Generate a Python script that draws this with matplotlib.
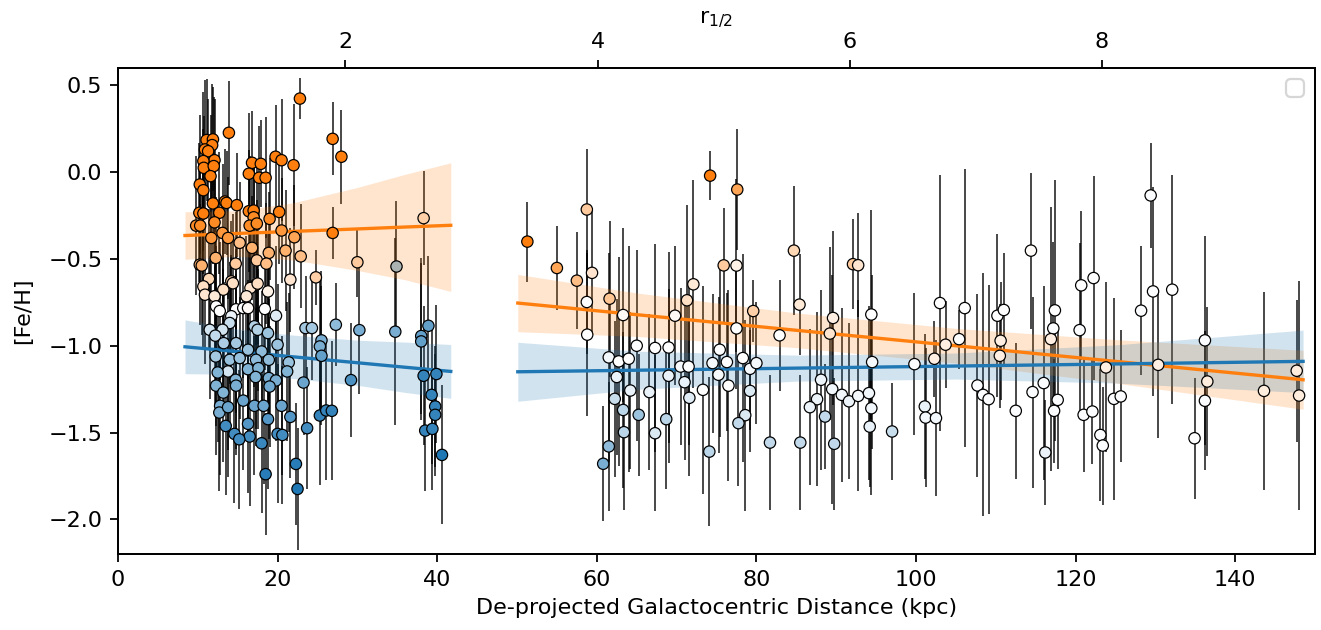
import matplotlib
matplotlib.use("Agg")
import matplotlib.pyplot as plt
from matplotlib.colors import LinearSegmentedColormap

plt.rcParams['font.family'] = ['DejaVu Sans']

# --- inner stars (x in kpc, [Fe/H], error, orange-membership p) ---
inner_x = [22.8, 13.9, 11.1, 11.9, 11.8, 10.9, 11.3, 12.1, 10.7, 10.75, 12.0, 11.6, 10.25, 10.7,
           16.8, 17.9, 16.4, 17.7, 18.5, 19.75, 20.5, 22.0, 26.9, 28.0, 11.9, 13.4, 13.6, 14.9,
           10.2, 10.7, 12.7, 16.4, 17.0, 17.0, 20.2, 19.0, 9.8, 10.3, 12.1, 16.5, 17.4, 13.1,
           11.7, 13.8, 20.5, 22.1, 26.9,
           22.9, 21.0, 18.9, 16.8, 15.25, 12.25, 10.25, 10.5, 17.4, 18.6, 14.75, 21.6, 24.8, 11.4,
           14.2, 17.3, 10.7, 13.2, 16.6, 18.8, 10.9, 16.1, 12.1, 14.4, 17.5, 30.0, 38.3,
           12.3, 12.75, 14.8, 15.7, 16.3, 14.2, 18.4, 19.8,
           14.0, 11.5, 13.1, 17.1, 17.5, 18.8, 12.2, 13.25, 14.8, 20.0, 16.3, 18.0, 12.25, 14.0,
           15.25, 17.3, 18.9, 21.4, 13.8, 12.5, 16.3, 17.6, 21.2, 17.25, 18.9, 19.8, 14.75, 12.3,
           14.8, 19.0, 13.2, 23.25, 15.7, 17.1, 18.25, 20.5, 12.8, 12.7, 13.8, 21.6, 18.8, 16.3,
           13.5, 23.7, 14.6, 20.0, 20.6, 16.5, 15.2, 18.0, 22.3, 18.5, 22.5,
           23.5, 24.3, 27.3, 30.25, 34.75, 25.5, 25.3, 25.5, 29.2, 25.3, 26.1, 26.8, 38.0, 38.0,
           38.9, 38.3, 39.9, 39.3, 39.75, 39.75, 38.5, 39.4, 40.6]
inner_y = [0.424, 0.227, 0.185, 0.189, 0.156, 0.131, 0.121, 0.069, 0.064, 0.025, 0.035, -0.023, -0.071, -0.104,
           0.054, 0.048, -0.009, -0.032, -0.032, 0.089, 0.069, 0.04, 0.192, 0.089, -0.18, -0.169, -0.177, -0.19,
           -0.234, -0.238, -0.234, -0.225, -0.221, -0.26, -0.229, -0.269, -0.308, -0.308, -0.289, -0.308, -0.296, -0.35,
           -0.379, -0.379, -0.336, -0.375, -0.35,
           -0.485, -0.452, -0.465, -0.436, -0.407, -0.494, -0.533, -0.538, -0.508, -0.527, -0.527, -0.619, -0.606, -0.615,
           -0.629, -0.648, -0.658, -0.677, -0.667, -0.687, -0.706, -0.715, -0.715, -0.64, -0.642, -0.519, -0.265,
           -0.773, -0.80, -0.79, -0.783, -0.783, -0.83, -0.788, -0.827,
           -0.869, -0.908, -0.908, -0.888, -0.908, -0.927, -0.942, -0.985, -0.985, -0.994, -1.023, -1.033, -1.062, -1.081,
           -1.071, -1.081, -1.081, -1.096, -1.148, -1.154, -1.135, -1.129, -1.148, -1.18, -1.186, -1.2, -1.196, -1.23,
           -1.23, -1.235, -1.27, -1.212, -1.316, -1.346, -1.346, -1.346, -1.346, -1.385, -1.354, -1.41, -1.423, -1.45,
           -1.462, -1.475, -1.508, -1.508, -1.514, -1.523, -1.539, -1.562, -1.681, -1.74, -1.825,
           -0.898, -0.898, -0.879, -0.91, -0.919, -0.969, -1.004, -1.058, -1.198, -1.402, -1.373, -1.375, -0.944, -0.975,
           -0.885, -1.173, -1.163, -1.283, -1.35, -1.398, -1.489, -1.479, -1.629]
inner_err = [0.12, 0.30, 0.35, 0.30, 0.35, 0.40, 0.30, 0.35, 0.40, 0.30, 0.40, 0.35, 0.40, 0.35,
             0.30, 0.25, 0.35, 0.30, 0.35, 0.30, 0.35, 0.35, 0.21, 0.27, 0.35, 0.30, 0.30, 0.30,
             0.40, 0.35, 0.35, 0.35, 0.30, 0.35, 0.30, 0.35, 0.40, 0.35, 0.30, 0.40, 0.35, 0.40,
             0.35, 0.35, 0.30, 0.30, 0.15,
             0.30, 0.35, 0.35, 0.30, 0.35, 0.35, 0.35, 0.40, 0.35, 0.35, 0.30, 0.30, 0.16, 0.40,
             0.35, 0.35, 0.35, 0.35, 0.40, 0.35, 0.40, 0.35, 0.35, 0.40, 0.35, 0.20, 0.27,
             0.35, 0.40, 0.35, 0.40, 0.35, 0.35, 0.35, 0.40,
             0.35, 0.40, 0.35, 0.35, 0.35, 0.40, 0.40, 0.35, 0.40, 0.35, 0.40, 0.35, 0.40, 0.40,
             0.35, 0.40, 0.35, 0.40, 0.45, 0.40, 0.40, 0.35, 0.40, 0.40, 0.35, 0.35, 0.40, 0.40,
             0.40, 0.35, 0.40, 0.30, 0.40, 0.40, 0.45, 0.40, 0.40, 0.45, 0.40, 0.35, 0.40, 0.40,
             0.40, 0.35, 0.40, 0.40, 0.40, 0.40, 0.40, 0.40, 0.35, 0.35, 0.35,
             0.30, 0.30, 0.24, 0.37, 0.54, 0.40, 0.40, 0.40, 0.33, 0.40, 0.40, 0.40, 0.45, 0.45,
             0.40, 0.40, 0.40, 0.40, 0.35, 0.35, 0.35, 0.35, 0.40]
inner_p = [1.0, 1.0, 1.0, 1.0, 1.0, 1.0, 1.0, 1.0, 1.0, 1.0, 1.0, 1.0, 1.0, 1.0,
           1.0, 1.0, 1.0, 1.0, 1.0, 1.0, 1.0, 1.0, 1.0, 1.0, 1.0, 1.0, 1.0, 1.0,
           1.0, 1.0, 1.0, 1.0, 1.0, 0.95, 1.0, 0.95, 0.95, 0.95, 0.95, 0.95, 0.95, 0.9,
           0.9, 0.9, 0.9, 0.85, 1.0,
           0.75, 0.8, 0.8, 0.8, 0.75, 0.8, 0.8, 0.8, 0.7, 0.75, 0.7, 0.6, 0.68, 0.65,
           0.65, 0.65, 0.62, 0.62, 0.6, 0.55, 0.6, 0.58, 0.58, 0.62, 0.62, 0.7, 0.68,
           0.5, 0.5, 0.5, 0.5, 0.52, 0.46, 0.5, 0.43,
           0.38, 0.4, 0.4, 0.33, 0.33, 0.28, 0.36, 0.32, 0.3, 0.28, 0.27, 0.25, 0.3, 0.27,
           0.27, 0.25, 0.25, 0.27, 0.4, 0.22, 0.22, 0.22, 0.22, 0.22, 0.2, 0.2, 0.22, 0.22,
           0.2, 0.18, 0.22, 0.17, 0.17, 0.17, 0.17, 0.17, 0.2, 0.2, 0.17, 0.12, 0.12, 0.12,
           0.08, 0.08, 0.08, 0.08, 0.08, 0.08, 0.08, 0.06, 0.02, 0.02, 0.0,
           0.3, 0.3, 0.25, 0.2, 0.2, 0.2, 0.2, 0.15, 0.1, 0.05, 0.05, 0.05, 0.15, 0.15,
           0.15, 0.05, 0.05, 0.05, 0.05, 0.05, 0.05, 0.05, 0.0]

# star with undefined membership (drawn grey)
grey_x = [34.8]
grey_y = [-0.538]
grey_err = [0.37]

# --- outer stars ---
outer_x = [51.3, 55.0, 58.75, 57.5, 59.4, 58.75, 58.8, 61.6, 63.3, 61.5, 62.75, 64.0, 65.0, 62.5,
           62.25, 64.2, 63.3, 63.4, 65.25, 61.5, 60.8, 67.3, 69.0, 66.6, 67.3, 68.7, 69.0, 69.8,
           71.3, 72.1, 70.5, 71.5, 71.0, 71.6, 74.2, 77.6, 75.9, 77.5, 79.6, 77.5, 82.9, 84.7,
           85.4, 89.6, 89.2, 92.1, 92.75, 94.4, 94.5, 75.4, 74.5, 76.3, 75.25, 73.3, 76.5, 78.3,
           79.2, 80.0, 79.2, 78.6, 77.75, 74.1, 81.7, 85.5, 89.75, 88.1, 87.6, 86.7, 88.6, 89.5,
           90.7, 91.6, 92.75, 94.1, 94.4, 94.2, 97.0, 99.8, 102.3, 103.7, 103.0, 106.1, 105.4, 101.1,
           101.2, 102.5, 107.7, 108.4, 109.1, 110.2, 111.0, 110.6, 110.5, 112.5, 114.4, 114.6, 116.0, 116.2,
           117.4, 117.2, 116.9, 117.3, 117.75, 120.7, 120.5, 121.0, 122.25, 122.1, 123.8, 123.1, 123.4, 124.8,
           125.65, 128.2, 129.4, 129.7, 130.35, 132.1, 134.9, 136.2, 136.5, 136.2, 143.6, 147.7, 148.0]
outer_y = [-0.40, -0.552, -0.215, -0.625, -0.58, -0.748, -0.936, -0.729, -0.823, -1.067, -1.09, -1.075, -1.0, -1.18,
           -1.306, -1.258, -1.37, -1.498, -1.398, -1.58, -1.68, -1.013, -1.01, -1.267, -1.504, -1.423, -1.173, -0.827,
           -0.738, -0.646, -1.12, -1.12, -1.21, -1.30, -0.02, -0.10, -0.537, -0.538, -0.80, -0.90, -0.94, -0.452,
           -0.763, -0.84, -0.93, -0.53, -0.536, -0.82, -1.094, -1.023, -1.10, -1.094, -1.167, -1.254, -1.23, -1.071,
           -1.133, -1.10, -1.26, -1.40, -1.446, -1.61, -1.558, -1.558, -1.565, -1.196, -1.308, -1.354, -1.408, -1.25,
           -1.283, -1.32, -1.289, -1.273, -1.36, -1.466, -1.494, -1.106, -1.075, -0.994, -0.754, -0.783, -0.962, -1.35,
           -1.414, -1.417, -1.229, -1.283, -1.308, -0.827, -0.794, -0.971, -1.058, -1.375, -0.452, -1.267, -1.215, -1.615,
           -0.796, -0.90, -0.962, -1.375, -1.312, -0.652, -0.91, -1.398, -0.61, -1.379, -1.125, -1.514, -1.575, -1.306,
           -1.292, -0.798, -0.134, -0.687, -1.11, -0.677, -1.533, -0.969, -1.206, -1.317, -1.26, -1.144, -1.287]
outer_err = [0.23, 0.24, 0.35, 0.28, 0.36, 0.30, 0.47, 0.45, 0.50, 0.60, 0.60, 0.65, 0.55, 0.45,
             0.45, 0.45, 0.45, 0.45, 0.35, 0.37, 0.33, 0.60, 0.55, 0.45, 0.45, 0.40, 0.50, 0.40,
             0.55, 0.60, 0.45, 0.45, 0.45, 0.45, 0.14, 0.35, 0.33, 0.50, 0.18, 0.35, 0.32, 0.37,
             0.29, 0.50, 0.50, 0.26, 0.30, 0.60, 0.50, 0.50, 0.40, 0.40, 0.45, 0.60, 0.55, 0.60,
             0.35, 0.35, 0.35, 0.55, 0.36, 0.43, 0.39, 0.39, 0.38, 0.52, 0.50, 0.45, 0.30, 0.66,
             0.50, 0.45, 0.55, 0.50, 0.50, 0.35, 0.28, 0.41, 0.22, 0.25, 0.74, 0.80, 0.17, 0.42,
             0.40, 0.45, 0.53, 0.70, 0.66, 0.47, 0.33, 0.34, 0.30, 0.39, 0.45, 0.55, 0.56, 0.30,
             0.75, 0.50, 0.76, 0.30, 0.40, 0.43, 0.50, 0.33, 0.59, 0.30, 0.49, 0.38, 0.34, 0.58,
             0.38, 0.37, 0.30, 0.60, 0.42, 0.66, 0.35, 0.60, 0.43, 0.40, 0.57, 0.41, 0.66]
outer_p = [1.0, 0.85, 0.7, 0.75, 0.6, 0.5, 0.5, 0.72, 0.52, 0.47, 0.5, 0.5, 0.5, 0.45,
           0.38, 0.45, 0.35, 0.35, 0.28, 0.25, 0.2, 0.5, 0.5, 0.45, 0.42, 0.35, 0.45, 0.52,
           0.62, 0.58, 0.48, 0.5, 0.45, 0.43, 1.0, 0.85, 0.7, 0.55, 0.68, 0.5, 0.5, 0.65,
           0.58, 0.56, 0.6, 0.7, 0.6, 0.5, 0.48, 0.5, 0.48, 0.5, 0.48, 0.5, 0.5, 0.5,
           0.48, 0.48, 0.42, 0.42, 0.36, 0.35, 0.36, 0.36, 0.36, 0.46, 0.46, 0.46, 0.36, 0.47,
           0.47, 0.46, 0.48, 0.47, 0.47, 0.45, 0.38, 0.49, 0.56, 0.56, 0.5, 0.5, 0.5, 0.45,
           0.47, 0.47, 0.49, 0.49, 0.49, 0.5, 0.5, 0.56, 0.56, 0.49, 0.51, 0.49, 0.49, 0.46,
           0.5, 0.49, 0.56, 0.49, 0.49, 0.5, 0.49, 0.49, 0.5, 0.49, 0.56, 0.49, 0.49, 0.49,
           0.49, 0.49, 0.49, 0.49, 0.56, 0.5, 0.5, 0.49, 0.57, 0.49, 0.57, 0.57, 0.57]

# --- fitted trends with confidence bands ---
fit_in_x = [8.4, 15.0, 22.0, 30.0, 36.0, 41.7]
orange_in = [-0.365, -0.353, -0.341, -0.327, -0.316, -0.306]
orange_in_lo = [-0.502, -0.484, -0.506, -0.566, -0.620, -0.687]
orange_in_hi = [-0.228, -0.222, -0.176, -0.088, -0.012, 0.054]
blue_in = [-1.006, -1.034, -1.064, -1.098, -1.124, -1.148]
blue_in_lo = [-1.161, -1.164, -1.189, -1.228, -1.269, -1.303]
blue_in_hi = [-0.851, -0.904, -0.939, -0.968, -0.979, -0.993]

fit_out_x = [50.1, 65.0, 85.0, 105.0, 125.0, 148.5]
orange_out = [-0.754, -0.821, -0.911, -1.000, -1.090, -1.196]
orange_out_lo = [-0.919, -0.946, -1.011, -1.100, -1.215, -1.366]
orange_out_hi = [-0.589, -0.696, -0.811, -0.900, -0.965, -1.026]
blue_out = [-1.150, -1.141, -1.129, -1.117, -1.105, -1.090]
blue_out_lo = [-1.320, -1.251, -1.204, -1.192, -1.215, -1.270]
blue_out_hi = [-0.980, -1.031, -1.054, -1.042, -0.995, -0.910]

# top axis: r_1/2 units
R_HALF_KPC = 15.8
R_ZERO_KPC = -3.1

ORANGE = '#ff7f0e'
BLUE = '#1f77b4'
cmap = LinearSegmentedColormap.from_list('memb', [BLUE, 'white', ORANGE])

DPI = 160
fig = plt.figure(figsize=(1321 / DPI, 630 / DPI), dpi=DPI)
ax = fig.add_axes([0.0893, 0.1206, 0.9062, 0.7714])

all_x = inner_x + grey_x + outer_x
all_y = inner_y + grey_y + outer_y
all_err = inner_err + grey_err + outer_err
ax.errorbar(all_x, all_y, yerr=all_err, fmt='none', ecolor='k', elinewidth=0.7,
            alpha=0.9, zorder=1)

for fx, lo, hi, c in [(fit_in_x, orange_in_lo, orange_in_hi, ORANGE),
                      (fit_in_x, blue_in_lo, blue_in_hi, BLUE),
                      (fit_out_x, orange_out_lo, orange_out_hi, ORANGE),
                      (fit_out_x, blue_out_lo, blue_out_hi, BLUE)]:
    ax.fill_between(fx, lo, hi, color=c, alpha=0.2, linewidth=0, zorder=2)

ax.plot(fit_in_x, orange_in, color=ORANGE, lw=1.5, zorder=3)
ax.plot(fit_in_x, blue_in, color=BLUE, lw=1.5, zorder=3)
ax.plot(fit_out_x, orange_out, color=ORANGE, lw=1.5, zorder=3)
ax.plot(fit_out_x, blue_out, color=BLUE, lw=1.5, zorder=3)

ax.scatter(inner_x + outer_x, inner_y + outer_y, c=inner_p + outer_p, cmap=cmap,
           vmin=0, vmax=1, s=26, edgecolors='k', linewidths=0.55, zorder=4)
ax.scatter(grey_x, grey_y, color='#aab2b2', s=26, edgecolors='k', linewidths=0.55, zorder=4)

ax.set_xlim(0, 150)
ax.set_ylim(-2.2, 0.6)
ax.set_yticks([0.5, 0.0, -0.5, -1.0, -1.5, -2.0])
ax.set_xlabel('De-projected Galactocentric Distance (kpc)')
ax.set_ylabel('[Fe/H]', labelpad=7)
ax.legend(handles=[], loc='upper right')

ax2 = ax.twiny()
lo, hi = ax.get_xlim()
ax2.set_xlim((lo - R_ZERO_KPC) / R_HALF_KPC, (hi - R_ZERO_KPC) / R_HALF_KPC)
ax2.set_xticks([2, 4, 6, 8])
ax2.set_xlabel(r'r$_{\mathrm{1/2}}$')

fig.savefig('out.png', dpi=DPI)
